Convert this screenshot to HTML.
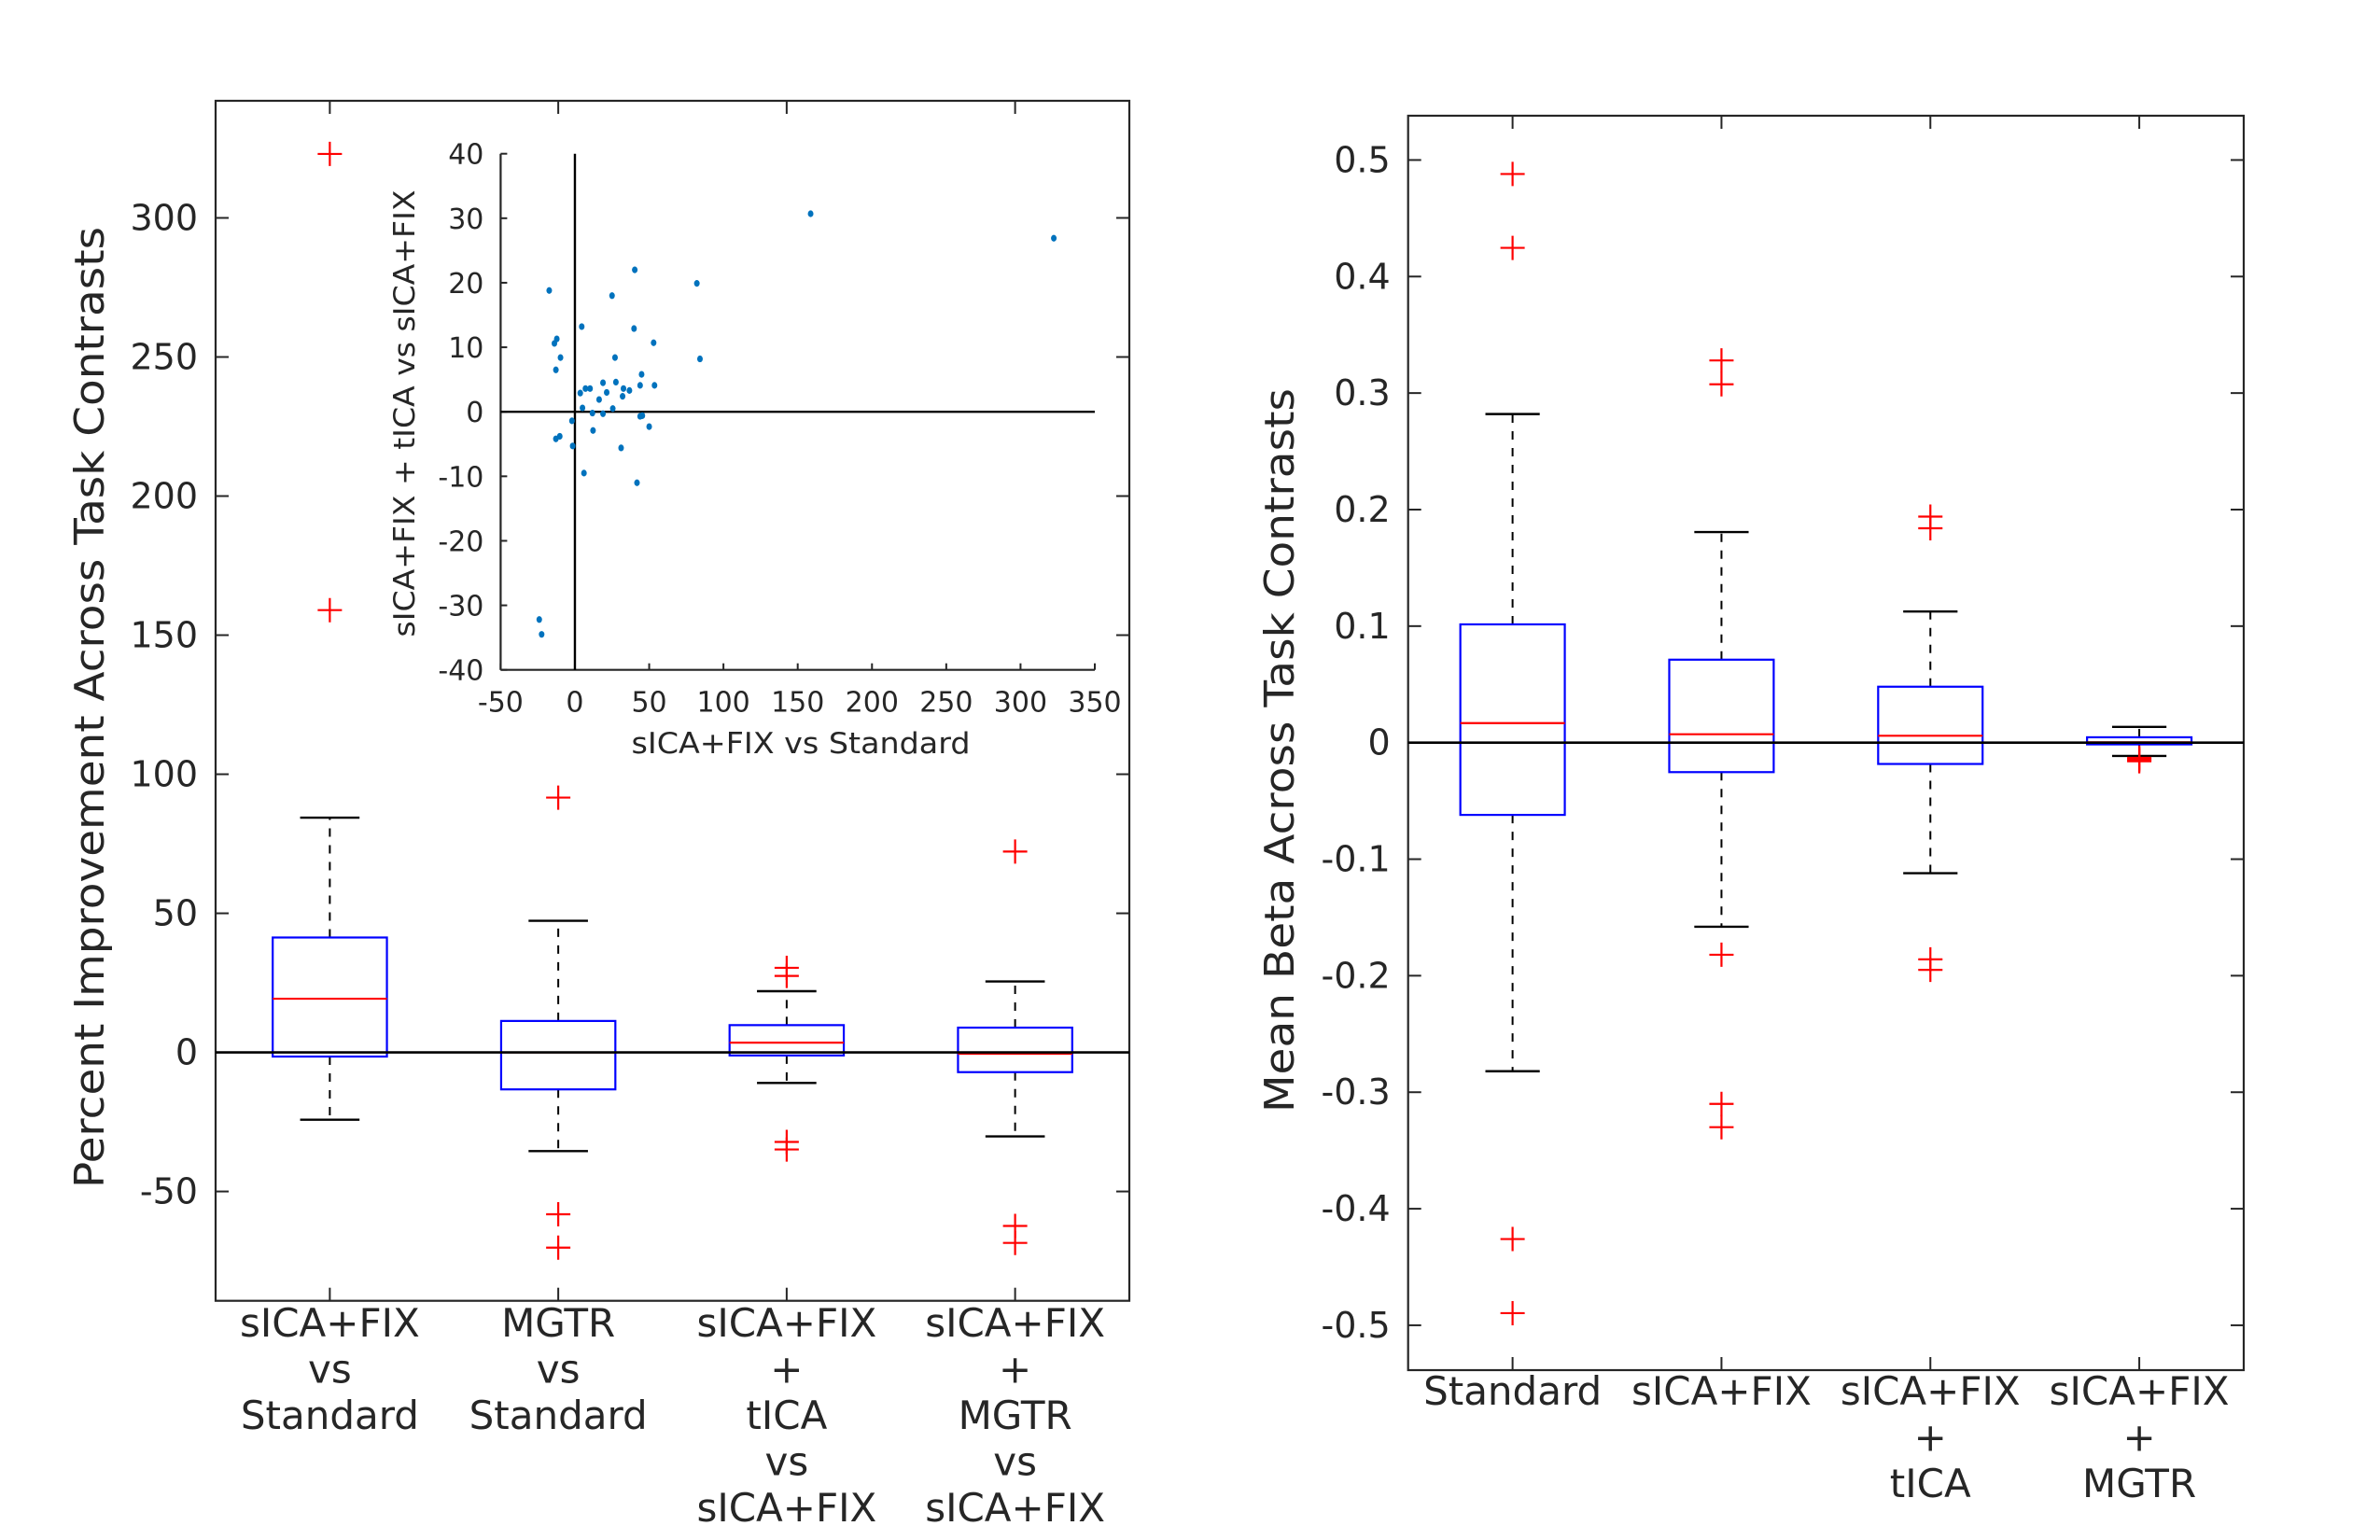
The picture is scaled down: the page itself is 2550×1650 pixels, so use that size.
<!DOCTYPE html>
<html><head><meta charset="utf-8"><style>
html,body{margin:0;padding:0;background:#fff}
svg{display:block}
text{font-family:"DejaVu Sans","Liberation Sans",sans-serif;fill:#262626}
</style></head><body>
<svg id="fig" width="2550" height="1650" viewBox="0 0 2550 1650" xmlns="http://www.w3.org/2000/svg">
<rect width="2550" height="1650" fill="#fff"/>
<g id="left"></g>
<g id="inset"></g>
<g id="right"></g>
</svg>
<script>
// ---------- data ----------
const leftCategories = [["sICA+FIX","vs","Standard"],["MGTR","vs","Standard"],["sICA+FIX","+","tICA","vs","sICA+FIX"],["sICA+FIX","+","MGTR","vs","sICA+FIX"]];
const leftQ1 = [-1.5, -13.3, -1.1, -7.1];
const leftMedian = [19.3, 0, 3.5, -0.5];
const leftQ3 = [41.3, 11.3, 9.8, 8.9];
const leftWhiskerLow = [-24.2, -35.5, -11, -30.2];
const leftWhiskerHigh = [84.4, 47.3, 22, 25.5];
const leftOutliers = [[323, 159], [91.6, -58.2, -70.2], [30.4, 27.5, -32.2, -34.9], [72.2, -62.4, -68.5]];
const leftTicks = [-50, 0, 50, 100, 150, 200, 250, 300];

const rightCategories = [["Standard"],["sICA+FIX"],["sICA+FIX","+","tICA"],["sICA+FIX","+","MGTR"]];
const rightQ1 = [-0.062, -0.0253, -0.0183, -0.0015];
const rightMedian = [0.0168, 0.0072, 0.0059, 0.0003];
const rightQ3 = [0.1015, 0.0712, 0.048, 0.0046];
const rightWhiskerLow = [-0.282, -0.158, -0.112, -0.0114];
const rightWhiskerHigh = [0.282, 0.1807, 0.1125, 0.0135];
const rightOutliers = [[0.488, 0.4246, -0.426, -0.4896], [0.328, 0.3075, -0.182, -0.31, -0.33], [0.194, 0.184, -0.186, -0.195], [-0.013, -0.014, -0.015, -0.016]];
const rightTicks = [-0.5, -0.4, -0.3, -0.2, -0.1, 0, 0.1, 0.2, 0.3, 0.4, 0.5];
const rightTickLabels = ["-0.5","-0.4","-0.3","-0.2","-0.1","0","0.1","0.2","0.3","0.4","0.5"];

const scatterX = [158.7,322.4,-17.3,25,40.3,82.1,4.6,39.8,53,84.2,-12.2,-13.8,-9.7,27,-12.8,44.9,18.9,27.6,43.9,53.6,7.1,10.2,3.6,21.4,32.7,36.7,16.3,32.1,5.1,25.5,11.8,18.9,43.9,45.4,-2,12.2,50,-10.2,-12.8,-1.5,31.1,6.1,41.8,-24,-22.4];
const scatterY = [30.7,26.9,18.8,18,22,19.9,13.2,12.9,10.7,8.2,11.3,10.6,8.4,8.4,6.5,5.8,4.5,4.6,4.1,4.1,3.6,3.6,2.9,3.0,3.6,3.3,1.9,2.4,0.6,0.5,-0.2,-0.3,-0.7,-0.6,-1.4,-2.9,-2.3,-3.8,-4.2,-5.3,-5.6,-9.5,-11,-32.2,-34.5];
const insetXTicks = [-50,0,50,100,150,200,250,300,350];
const insetYTicks = [-40,-30,-20,-10,0,10,20,30,40];

// ---------- helpers ----------
const NS = "http://www.w3.org/2000/svg";
function mk(parent, tag, attrs, txt){
  const e = document.createElementNS(NS, tag);
  for (const k in attrs) e.setAttribute(k, attrs[k]);
  if (txt !== undefined) e.textContent = txt;
  parent.appendChild(e);
  return e;
}
function line(p, x1,y1,x2,y2, stroke, w, dash){
  const a = {x1,y1,x2,y2,stroke,'stroke-width':w};
  if (dash) a['stroke-dasharray'] = dash;
  return mk(p,'line',a);
}

function boxPanel(g, cfg){
  const {x0,x1,y0,y1,ymin,ymax} = cfg;
  const n = cfg.cats.length;
  const sp = (x1-x0)/n;
  const X = i => x0 + sp*(i+0.5);
  const Y = v => y1 - (v-ymin)/(ymax-ymin)*(y1-y0);
  const hw = sp*0.25, cw = sp*0.13;
  const ax = mk(g,'rect',{x:x0,y:y0,width:x1-x0,height:y1-y0,fill:'none',stroke:'#262626','stroke-width':2.2});
  
  
  cfg.ticks.forEach((t,i)=>{
    const y = Y(t);
    line(g,x0,y,x0+14,y,'#262626',2);
    line(g,x1,y,x1-14,y,'#262626',2);
    const tl = mk(g,'text',{x:x0-19,y:y+13,'font-size':38,'text-anchor':'end'}, cfg.tickLabels ? cfg.tickLabels[i] : String(t));
    
    
  });
  cfg.cats.forEach((lines,i)=>{
    const x = X(i);
    line(g,x,y1,x,y1-14,'#262626',2);
    line(g,x,y0,x,y0+14,'#262626',2);
    const t = mk(g,'text',{x:x,'font-size':42,'text-anchor':'middle'});
    
    
    lines.forEach((s,j)=>{ mk(t,'tspan',{x:x,y:cfg.labelY + j*49.5}, s); });
  });
  for (let i=0;i<n;i++){
    const x = X(i);
    const bg = mk(g,'g',{});
    
    
    line(bg,x,Y(cfg.q3[i]),x,Y(cfg.wh[i]),'#000',2,'9,9');
    line(bg,x,Y(cfg.q1[i]),x,Y(cfg.wl[i]),'#000',2,'9,9');
    line(bg,x-cw,Y(cfg.wh[i]),x+cw,Y(cfg.wh[i]),'#000',2.4);
    line(bg,x-cw,Y(cfg.wl[i]),x+cw,Y(cfg.wl[i]),'#000',2.4);
    mk(bg,'rect',{x:x-hw,y:Y(cfg.q3[i]),width:2*hw,height:Math.max(Y(cfg.q1[i])-Y(cfg.q3[i]),1),fill:'none',stroke:'#0000ff','stroke-width':2.2});
    line(bg,x-hw,Y(cfg.med[i]),x+hw,Y(cfg.med[i]),'#ff0000',2.2);
    cfg.out[i].forEach(v=>{
      const y = Y(v);
      const o = mk(bg,'path',{d:`M${x-13},${y}H${x+13}M${x},${y-13}V${y+13}`,stroke:'#ff0000','stroke-width':2.2,fill:'none'});
      
      
    });
  }
  const z = line(g,x0,Y(0),x1,Y(0),'#000',2.6);
  
  
  const yl = mk(g,'text',{x:cfg.ylx,y:cfg.yly,'font-size':44,'text-anchor':'middle',transform:`rotate(-90 ${cfg.ylx} ${cfg.yly})`,textLength:cfg.ylLen,lengthAdjust:'spacingAndGlyphs'}, cfg.ylabel);
  
  
}

boxPanel(document.getElementById('left'), {
  name:'left', x0:231, x1:1210, y0:108, y1:1393.7, ymin:-89.3, ymax:342.1,
  cats:leftCategories, q1:leftQ1, med:leftMedian, q3:leftQ3, wl:leftWhiskerLow, wh:leftWhiskerHigh, out:leftOutliers,
  ticks:leftTicks, labelY:1432, ylx:111, yly:758, ylLen:1030, ylabel:'Percent Improvement Across Task Contrasts'
});
boxPanel(document.getElementById('right'), {
  name:'right', x0:1508.7, x1:2404, y0:124, y1:1468, ymin:-0.5385, ymax:0.538,
  cats:rightCategories, q1:rightQ1, med:rightMedian, q3:rightQ3, wl:rightWhiskerLow, wh:rightWhiskerHigh, out:rightOutliers,
  ticks:rightTicks, tickLabels:rightTickLabels, labelY:1505, ylx:1386, yly:804, ylLen:776, ylabel:'Mean Beta Across Task Contrasts'
});

// ---------- inset scatter ----------
(function(){
  const g = document.getElementById('inset');
  const x0=536.4, x1=1173, y0=164.7, y1=717.7;
  const xmin=-50,xmax=350,ymin=-40,ymax=40;
  const X = v => x0 + (v-xmin)/(xmax-xmin)*(x1-x0);
  const Y = v => y1 - (v-ymin)/(ymax-ymin)*(y1-y0);
  const ya = line(g,x0,y0,x0,y1,'#262626',2.2);
  
  
  const xa = line(g,x0,y1,x1,y1,'#262626',2.2);
  
  
  insetYTicks.forEach(t=>{
    const y = Y(t);
    line(g,x0,y,x0+7,y,'#262626',2);
    const tl = mk(g,'text',{x:x0-18,y:y+11,'font-size':30,'text-anchor':'end'}, String(t));
    
    
  });
  insetXTicks.forEach(t=>{
    const x = X(t);
    line(g,x,y1,x,y1-7,'#262626',2);
    const tl = mk(g,'text',{x:x,y:y1+45,'font-size':30,'text-anchor':'middle'}, String(t));
    
    
  });
  const h0 = line(g,x0,Y(0),x1,Y(0),'#000',2.4);
  
  
  const v0 = line(g,X(0),y0,X(0),y1,'#000',2.4);
  
  
  for (let i=0;i<scatterX.length;i++){
    const c = mk(g,'ellipse',{cx:X(scatterX[i]),cy:Y(scatterY[i]),rx:3,ry:3.6,fill:'#0072bd'});
    
    
  }
  const xl = mk(g,'text',{x:858,y:807,'font-size':31,'text-anchor':'middle',textLength:363,lengthAdjust:'spacingAndGlyphs'}, 'sICA+FIX vs Standard');
  
  
  const yl = mk(g,'text',{x:444,y:443,'font-size':31,'text-anchor':'middle',transform:'rotate(-90 444 443)',textLength:479,lengthAdjust:'spacingAndGlyphs'}, 'sICA+FIX + tICA vs sICA+FIX');
  
  
})();
</script>
</body></html>
